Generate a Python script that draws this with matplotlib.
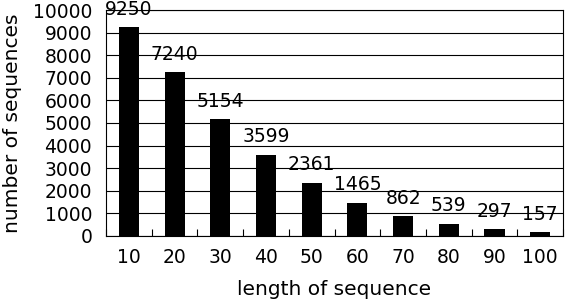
import matplotlib
matplotlib.use("Agg")
import matplotlib.pyplot as plt
import numpy as np

categories = ["10", "20", "30", "40", "50", "60", "70", "80", "90", "100"]
values = [9250, 7240, 5154, 3599, 2361, 1465, 862, 539, 297, 157]
y_ticks = list(range(0, 10001, 1000))

plt.rcParams['font.family'] = ['DejaVu Sans']
fig = plt.figure(figsize=(5.67, 3.04), dpi=100)
ax = fig.add_axes([0.187, 0.224, 0.806, 0.743])

x = np.arange(len(categories))
ax.bar(x, values, width=0.44, color='black', zorder=3)
for xi, v in zip(x, values):
    ax.annotate(str(v), (xi, v), xytext=(0, 6), textcoords='offset points',
                ha='center', va='bottom', fontsize=13.5, zorder=4)

ax.set_xlim(-0.5, len(categories) - 0.5)
ax.set_ylim(0, 10000)
ax.set_yticks(y_ticks)
ax.set_yticklabels([str(t) for t in y_ticks], fontsize=13.5)
ax.yaxis.grid(True, color='black', linewidth=0.8, zorder=0)
ax.tick_params(axis='y', length=0, pad=10)

ax.set_xticks(x)
ax.set_xticklabels(categories, fontsize=13.5)
ax.tick_params(axis='x', which='major', length=0, pad=9)
ax.set_xticks(np.arange(-0.5, len(categories)), minor=True)
ax.tick_params(axis='x', which='minor', direction='in', length=5, width=0.8)

for s in ax.spines.values():
    s.set_linewidth(0.8)
    s.set_color('black')

ax.set_ylabel("number of sequences", fontsize=14.5, labelpad=8)
ax.set_xlabel("length of sequence", fontsize=14.5, labelpad=9)

fig.savefig("out.png", dpi=100)
